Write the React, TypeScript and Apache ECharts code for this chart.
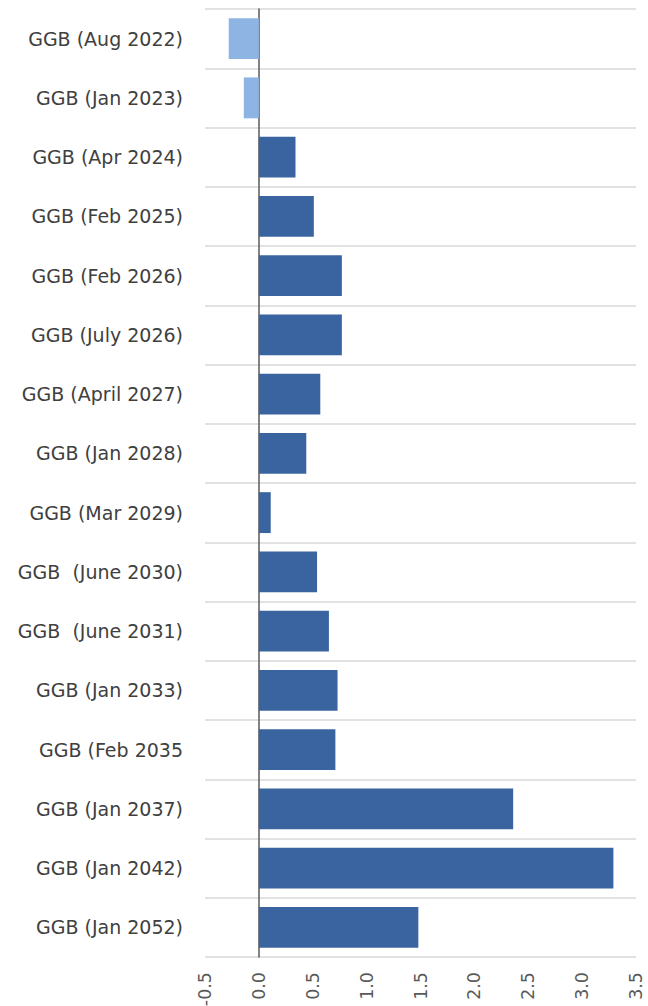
import React, { useEffect, useRef } from "react";
import * as echarts from "echarts";

const categories = [
  "GGB (Aug 2022)",
  "GGB (Jan 2023)",
  "GGB (Apr 2024)",
  "GGB (Feb 2025)",
  "GGB (Feb 2026)",
  "GGB (July 2026)",
  "GGB (April 2027)",
  "GGB (Jan 2028)",
  "GGB (Mar 2029)",
  "GGB  (June 2030)",
  "GGB  (June 2031)",
  "GGB (Jan 2033)",
  "GGB (Feb 2035",
  "GGB (Jan 2037)",
  "GGB (Jan 2042)",
  "GGB (Jan 2052)",
];
const values = [-0.28, -0.14, 0.34, 0.51, 0.77, 0.77, 0.57, 0.44, 0.11, 0.54, 0.65, 0.73, 0.71, 2.36, 3.29, 1.48];
const highlighted = [true, true, false, false, false, false, false, false, false, false, false, false, false, false, false, false];

export default function App() {
  const ref = useRef<HTMLDivElement>(null);
  useEffect(() => {
    const chart = echarts.init(ref.current!, null, { renderer: "svg" });
    chart.setOption({
      animation: false,
      grid: { left: 205, right: 12, top: 9, bottom: 49, containLabel: false, outerBoundsMode: "none" },
      xAxis: {
        type: "value",
        min: -0.5,
        max: 3.5,
        interval: 0.5,
        axisLine: { show: false },
        axisTick: { show: false },
        splitLine: { show: false },
        axisLabel: {
          rotate: 90,
          margin: 15,
          color: "#595959",
          fontSize: 17.5,
          fontFamily: "DejaVu Sans",
          formatter: (v: number) => v.toFixed(1),
        },
      },
      yAxis: {
        type: "category",
        data: categories,
        inverse: true,
        axisLine: { show: true, onZero: true, lineStyle: { color: "#595959", width: 1.5 } },
        axisTick: { show: false },
        splitLine: { show: true, lineStyle: { color: "#d9d9d9", width: 1.5 } },
        axisLabel: { color: "#404040", fontSize: 19, fontFamily: "DejaVu Sans", margin: 22 },
      },
      series: [
        {
          type: "bar",
          data: values.map((v, i) => ({
            value: v,
            itemStyle: { color: highlighted[i] ? "#8EB4E3" : "#3A64A0" },
          })),
          barCategoryGap: "31%",
        },
      ],
    });
    return () => chart.dispose();
  }, []);
  return <div ref={ref} style={{ position: "absolute", left: 0, top: 0, width: 648, height: 1006 }} />;
}
